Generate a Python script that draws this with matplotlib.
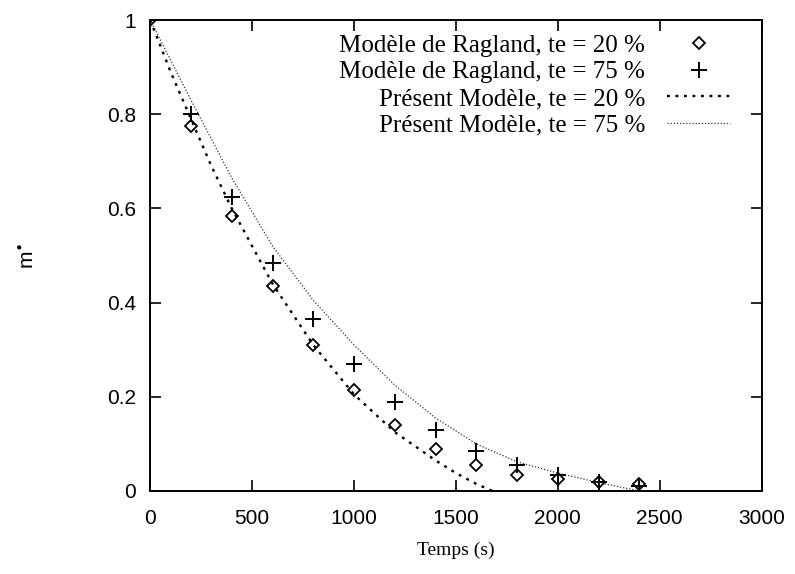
import matplotlib
matplotlib.use("Agg")
import matplotlib.pyplot as plt

# Data
t_ragland = [0, 200, 400, 600, 800, 1000, 1200, 1400, 1600, 1800, 2000, 2200, 2400]
rag_20 = [1.0, 0.775, 0.585, 0.435, 0.31, 0.215, 0.14, 0.09, 0.055, 0.035, 0.025, 0.02, 0.015]
rag_75 = [1.0, 0.80, 0.625, 0.485, 0.365, 0.27, 0.19, 0.13, 0.085, 0.055, 0.035, 0.02, 0.01]

t_mod20 = [0, 100, 200, 300, 400, 600, 800, 1000, 1200, 1400, 1500, 1600, 1680]
mod_20 = [1.0, 0.89, 0.79, 0.69, 0.60, 0.44, 0.31, 0.205, 0.125, 0.065, 0.038, 0.015, 0.0]

t_mod75 = [0, 200, 400, 600, 800, 1000, 1200, 1400, 1600, 1800, 2000, 2200, 2400]
mod_75 = [1.0, 0.83, 0.665, 0.52, 0.405, 0.31, 0.225, 0.155, 0.10, 0.062, 0.038, 0.018, 0.0]

labels = ["Modèle de Ragland, te = 20 %", "Modèle de Ragland, te = 75 %",
          "Présent Modèle, te = 20 %", "Présent Modèle, te = 75 %"]
xticks = [0, 500, 1000, 1500, 2000, 2500, 3000]
yticks = [0, 0.2, 0.4, 0.6, 0.8, 1]
ytick_labels = ["0", "0.2", "0.4", "0.6", "0.8", "1"]

fig = plt.figure(figsize=(7.95, 5.74), dpi=100)
ax = fig.add_axes([0.189, 0.1446, 0.769, 0.8204])

ax.plot(t_ragland, rag_20, linestyle="none", marker="D", markersize=6.5,
        markerfacecolor="none", markeredgecolor="black", markeredgewidth=1.3, label=labels[0])
ax.plot(t_ragland, rag_75, linestyle="none", marker="+", markersize=11,
        color="black", markeredgewidth=1.4, label=labels[1])
ax.plot(t_mod20, mod_20, linestyle=(0, (1.2, 2.4)), color="black", linewidth=1.7, label=labels[2])
ax.plot(t_mod75, mod_75, linestyle=(0, (1, 1.5)), color="#333333", linewidth=0.9, label=labels[3])

ax.set_xlim(0, 3000)
ax.set_ylim(0, 1)
ax.set_xticks(xticks)
ax.set_yticks(yticks)
ax.set_yticklabels(ytick_labels)
ax.tick_params(direction="in", length=8, width=1.2, top=True, right=True,
               labelsize=15, pad=10)
ax.tick_params(axis="x", pad=13)
for lab in ax.get_xticklabels() + ax.get_yticklabels():
    lab.set_fontfamily("Liberation Sans")
for sp in ax.spines.values():
    sp.set_linewidth(1.4)

ax.set_xlabel("Temps (s)", fontfamily="Liberation Serif", fontsize=14, labelpad=10)
ax.set_ylabel("m$^{\\bullet}$", fontfamily="Liberation Sans", fontsize=15, labelpad=50)

leg = ax.legend(loc="upper right", bbox_to_anchor=(0.985, 1.018), frameon=False,
                markerfirst=False, prop={"family": "Liberation Serif", "size": 18},
                handlelength=2.5, labelspacing=0.17, handletextpad=0.9)

fig.savefig("out.png", dpi=100)
